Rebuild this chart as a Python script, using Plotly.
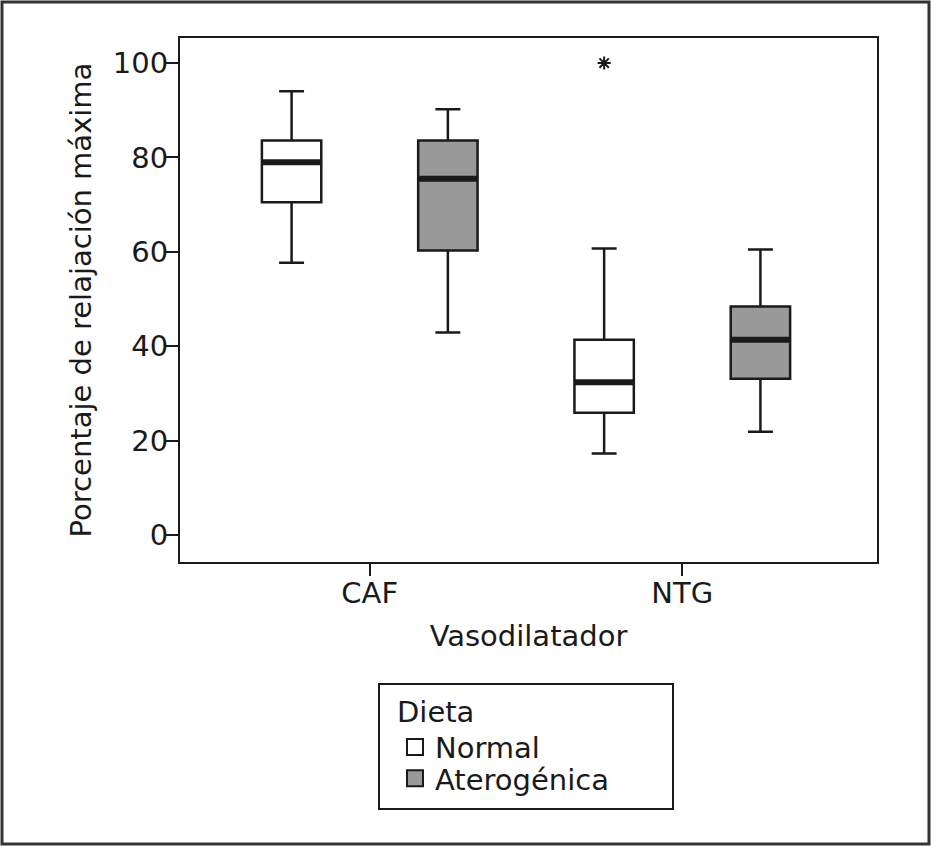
import plotly.graph_objects as go

# vasodilators (x categories)
categories = ["CAF", "NTG"]

# dieta normal
normal_low = [57.7, 17.3]
normal_q1 = [70.5, 25.9]
normal_med = [79.0, 32.4]
normal_q3 = [83.6, 41.4]
normal_high = [94.0, 60.7]

# dieta aterogenica
atero_low = [42.9, 21.9]
atero_q1 = [60.3, 33.1]
atero_med = [75.5, 41.4]
atero_q3 = [83.6, 48.4]
atero_high = [90.2, 60.5]

# outlier (NTG, normal)
outlier_cat = [1]
outlier_val = [100]

FONT = "DejaVu Sans, Liberation Sans, Arial, sans-serif"
INK = "#1a1a1a"
offset = 0.25
box_w = 0.19

fig = go.Figure()

groups = [
    ("Normal", "white", -offset, "legend",
     normal_low, normal_q1, normal_med, normal_q3, normal_high),
    ("Aterogénica", "#999999", offset, "legend2",
     atero_low, atero_q1, atero_med, atero_q3, atero_high),
]

for name, color, off, leg, low, q1, med, q3, high in groups:
    xs = [i + off for i in range(len(categories))]
    fig.add_trace(go.Box(
        x=xs, q1=q1, median=med, q3=q3, lowerfence=low, upperfence=high,
        width=box_w, whiskerwidth=0.42, fillcolor=color,
        line=dict(color=INK, width=2.5),
        boxpoints=False, showlegend=False, hoverinfo="skip",
    ))
    # thick median bars
    mx, my = [], []
    for x, m in zip(xs, med):
        mx += [x - box_w / 2, x + box_w / 2, None]
        my += [m, m, None]
    fig.add_trace(go.Scatter(
        x=mx, y=my, mode="lines", line=dict(color=INK, width=6),
        showlegend=False, hoverinfo="skip",
    ))
    # legend entry
    fig.add_trace(go.Scatter(
        x=[None], y=[None], mode="markers", name=name, legend=leg,
        marker=dict(symbol="square", size=16, color=color,
                    line=dict(color=INK, width=2)),
    ))

fig.add_trace(go.Scatter(
    x=[c - offset for c in outlier_cat], y=outlier_val, mode="markers",
    marker=dict(symbol="asterisk-open", size=11, color=INK, line=dict(color=INK, width=2)),
    showlegend=False, hoverinfo="skip",
))

axis_common = dict(
    showline=True, mirror=True, linecolor=INK, linewidth=2,
    ticks="outside", ticklen=12, tickwidth=2, tickcolor=INK,
    showgrid=False, zeroline=False,
    tickfont=dict(family=FONT, size=29, color=INK),
)

legend_common = dict(
    xanchor="left", yanchor="top",
    font=dict(family=FONT, size=29, color=INK),
    bgcolor="rgba(0,0,0,0)", borderwidth=0,
)

fig.update_layout(
    width=931, height=846,
    margin=dict(l=180, r=54, t=38, b=284),
    paper_bgcolor="white", plot_bgcolor="white",
    font=dict(family=FONT, size=29, color=INK),
    xaxis=dict(
        range=[-0.607, 1.623], tickvals=list(range(len(categories))), ticktext=categories,
        ticklabelstandoff=-8,
        title=dict(text="Vasodilatador", font=dict(family=FONT, size=29), standoff=17),
        **axis_common,
    ),
    yaxis=dict(
        range=[-5.7, 105.3], tickvals=[0, 20, 40, 60, 80, 100],
        ticklabelstandoff=-8,
        title=dict(text="Porcentaje de relajación máxima", font=dict(family=FONT, size=29), standoff=13),
        **axis_common,
    ),
    legend=dict(
        x=(395 - 180) / 697, y=(562 - 684) / 524,
        title=dict(text="Dieta", side="top", font=dict(family=FONT, size=29, color=INK)),
        **legend_common,
    ),
    legend2=dict(
        x=(395 - 180) / 697, y=(562 - 753) / 524,
        **legend_common,
    ),
    shapes=[
        # legend frame
        dict(type="rect", xref="paper", yref="paper",
             x0=(379 - 180) / 697, x1=(673 - 180) / 697,
             y0=(562 - 684) / 524, y1=(562 - 809) / 524,
             line=dict(color=INK, width=2)),
        # outer frame
        dict(type="rect", xref="paper", yref="paper",
             x0=(2 - 180) / 697, x1=(929 - 180) / 697,
             y0=(562 - 2) / 524, y1=(562 - 844) / 524,
             line=dict(color="#333333", width=3)),
    ],
)

fig.write_html("out.html", config={"displayModeBar": False},
               post_script="document.body.style.margin='0';")
